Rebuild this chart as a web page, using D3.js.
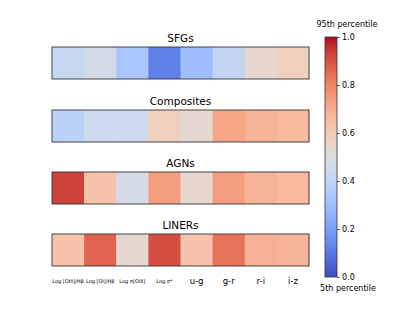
<!DOCTYPE html>
<html>
<head>
<meta charset="utf-8">
<script src="https://cdn.jsdelivr.net/npm/d3@7"></script>
<style>
  body { margin: 0; background: #fff; }
  svg { font-family: "DejaVu Sans", sans-serif; }
</style>
</head>
<body>
<div id="chart"></div>
<script>
// panel titles (top to bottom)
const groups = ["SFGs", "Composites", "AGNs", "LINERs"];

// columns
const features = ["Log [OIII]/H\u03b2", "Log [OI]/H\u03b2", "Log \u03c3[OIII]", "Log \u03c3*", "u-g", "g-r", "r-i", "i-z"];
const smallLabel = [true, true, true, true, false, false, false, false];

// normalised values (0 = 5th percentile, 1 = 95th percentile)
const sfgValues = [0.42, 0.46, 0.33, 0.12, 0.30, 0.41, 0.54, 0.58];
const compositeValues = [0.38, 0.44, 0.44, 0.58, 0.53, 0.72, 0.68, 0.66];
const agnValues = [0.93, 0.63, 0.47, 0.74, 0.54, 0.74, 0.68, 0.66];
const linerValues = [0.63, 0.87, 0.53, 0.91, 0.63, 0.84, 0.69, 0.68];
const allValues = [sfgValues, compositeValues, agnValues, linerValues];

const cbTicks = [0.0, 0.2, 0.4, 0.6, 0.8, 1.0];

// matplotlib "coolwarm" (Moreland) stops
const coolwarmStops = [
  [59,76,192],[68,90,204],[77,104,215],[87,117,225],[98,130,234],[108,142,241],
  [119,154,247],[130,165,251],[141,176,254],[152,185,255],[163,194,255],[174,201,253],
  [184,208,249],[194,213,244],[204,217,238],[213,219,230],[221,221,221],[229,216,209],
  [236,211,197],[241,204,185],[245,196,173],[247,187,160],[247,177,148],[247,166,135],
  [244,154,123],[241,141,111],[236,127,99],[229,112,88],[222,96,77],[213,80,66],
  [203,62,56],[192,40,47],[180,4,38]
].map(c => d3.rgb(c[0], c[1], c[2]));

const coolwarm = d3.scaleLinear()
    .domain(d3.range(coolwarmStops.length).map(i => i / (coolwarmStops.length - 1)))
    .range(coolwarmStops)
    .interpolate(d3.interpolateRgb)
    .clamp(true);

const width = 415, height = 311;

const svg = d3.select("#chart").append("svg")
    .attr("width", width)
    .attr("height", height);

// heatmap strips
const x = d3.scaleBand()
    .domain(features)
    .range([52, 309])
    .padding(0);

const stripTop = d3.scaleOrdinal()
    .domain(groups)
    .range([47, 110, 172, 234]);
const stripH = 32;

groups.forEach((g, gi) => {
  const y0 = stripTop(g);
  const panel = svg.append("g");

  panel.append("text")
      .attr("x", (x.range()[0] + x.range()[1]) / 2)
      .attr("y", y0 - 5)
      .attr("text-anchor", "middle")
      .attr("font-size", 10.5)
      .text(g);

  panel.selectAll("rect.cell")
      .data(allValues[gi])
      .enter().append("rect")
      .attr("class", "cell")
      .attr("x", (d, i) => x(features[i]))
      .attr("y", y0)
      .attr("width", x.bandwidth() + 0.5)
      .attr("height", stripH)
      .attr("fill", d => coolwarm(d));

  panel.append("rect")
      .attr("x", x.range()[0])
      .attr("y", y0)
      .attr("width", x.range()[1] - x.range()[0])
      .attr("height", stripH)
      .attr("fill", "none")
      .attr("stroke", "#333")
      .attr("stroke-width", 0.9);
});

// x labels under last strip
svg.append("g")
    .selectAll("text")
    .data(features)
    .enter().append("text")
    .attr("x", d => x(d) + x.bandwidth() / 2)
    .attr("y", (d, i) => smallLabel[i] ? 283 : 284)
    .attr("text-anchor", "middle")
    .attr("font-size", (d, i) => smallLabel[i] ? 5 : 8.5)
    .text(d => d);

// colorbar
const cbX = 325, cbW = 12;
const cbY = d3.scaleLinear().domain([0, 1]).range([277, 37]);

const defs = svg.append("defs");
const grad = defs.append("linearGradient")
    .attr("id", "cbgrad")
    .attr("x1", 0).attr("y1", 1).attr("x2", 0).attr("y2", 0);
grad.selectAll("stop")
    .data(coolwarmStops)
    .enter().append("stop")
    .attr("offset", (d, i) => i / (coolwarmStops.length - 1))
    .attr("stop-color", d => d);

svg.append("rect")
    .attr("x", cbX)
    .attr("y", cbY(1))
    .attr("width", cbW)
    .attr("height", cbY(0) - cbY(1))
    .attr("fill", "url(#cbgrad)")
    .attr("stroke", "#333")
    .attr("stroke-width", 0.8);

const cbAxis = svg.append("g")
    .attr("transform", "translate(" + (cbX + cbW) + ",0)")
    .call(d3.axisRight(cbY).tickValues(cbTicks).tickFormat(d3.format(".1f")).tickSize(3).tickPadding(2));
cbAxis.select(".domain").remove();
cbAxis.selectAll("text").attr("font-size", 8).attr("font-family", "DejaVu Sans");
cbAxis.selectAll("line").attr("stroke-width", 0.6);

svg.append("text")
    .attr("x", 347)
    .attr("y", 27)
    .attr("text-anchor", "middle")
    .attr("font-size", 8)
    .text("95th percentile");

svg.append("text")
    .attr("x", 348)
    .attr("y", 291)
    .attr("text-anchor", "middle")
    .attr("font-size", 8)
    .text("5th percentile");
</script>
</body>
</html>
